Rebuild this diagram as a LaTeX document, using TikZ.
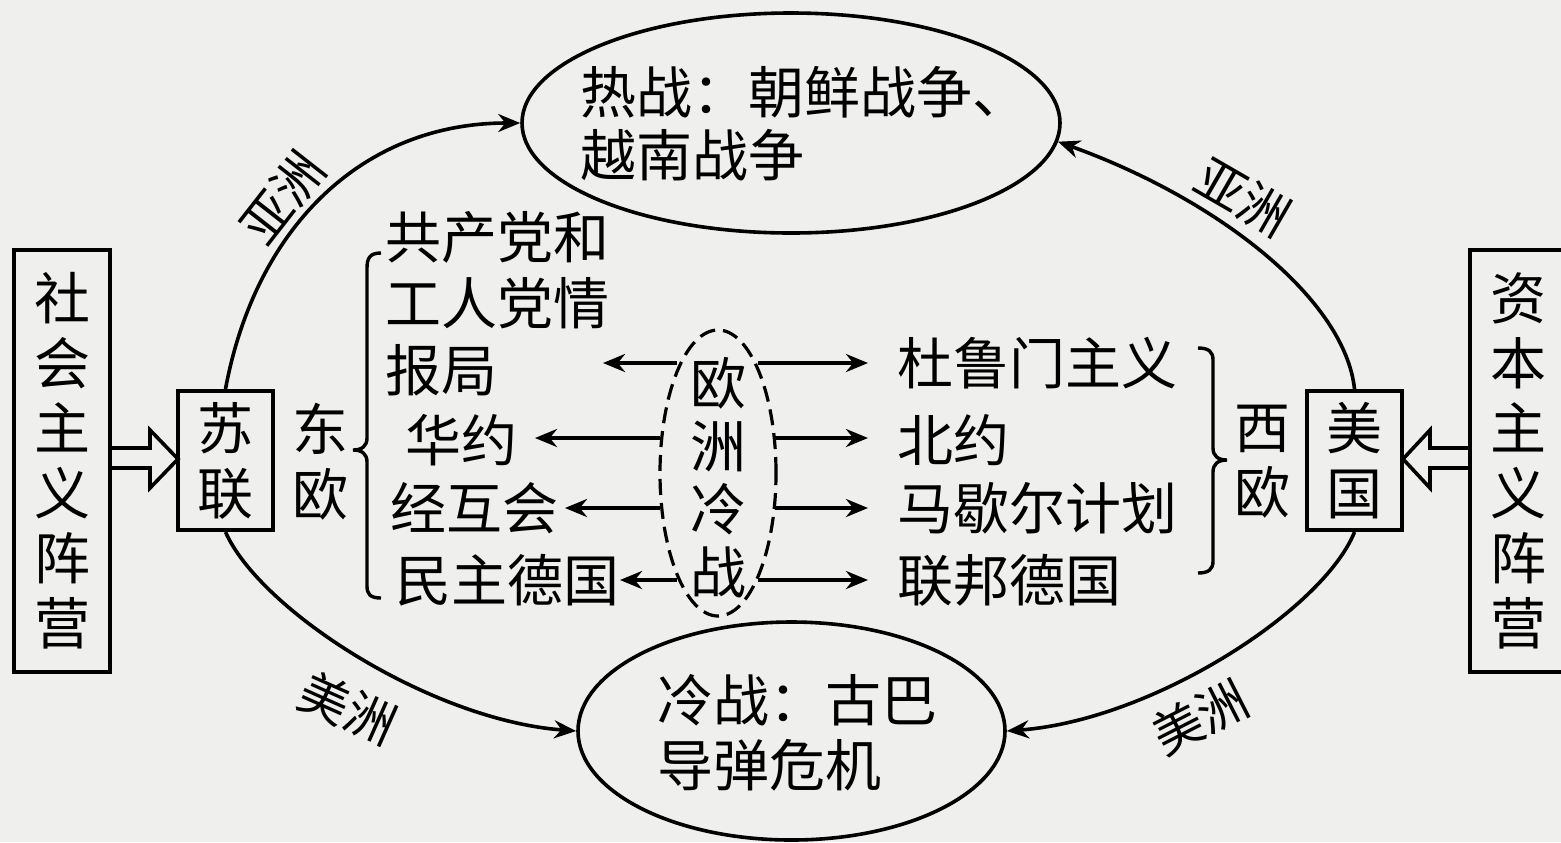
\documentclass[tikz,border=0pt]{standalone}
\usepackage{fontspec}
\newfontfamily\cjk{Noto Sans CJK SC}
\usetikzlibrary{arrows.meta,shapes.geometric}
\definecolor{bgc}{HTML}{EFEFEE}
\begin{document}
\begin{tikzpicture}[x=0.5pt,y=-0.5pt,
  txt/.style={font=\cjk\fontsize{28}{32.5}\selectfont, inner sep=0pt, align=center},
  ltxt/.style={font=\cjk\fontsize{28}{32.5}\selectfont, inner sep=0pt, anchor=west},
  lbl/.style={font=\cjk\fontsize{25}{30}\selectfont, inner sep=0pt},
  boxn/.style={draw, line width=2pt},
  ell/.style={draw, ellipse, line width=1.8pt, inner sep=0pt},
  con/.style={line width=1.8pt, -{Stealth[length=11pt,width=9pt]}},
  blk/.style={draw, line width=1.8pt, fill=bgc, line join=miter},
  brc/.style={line width=1.7pt},
]
\fill[bgc] (0,0) rectangle (1561,842);
\useasboundingbox (0,0) rectangle (1561,842);

% block arrows
\draw[blk] (111,448) -- (150,448) -- (150,430) -- (178,459) -- (150,488) -- (150,468) -- (111,468);
\draw[blk] (1469,448) -- (1430,448) -- (1430,430) -- (1403,459) -- (1430,488) -- (1430,468) -- (1469,468);

% boxes
\node[boxn, txt, minimum width=48pt, minimum height=211pt] (soc) at (62,461) {社\\会\\主\\义\\阵\\营};
\node[boxn, txt, minimum width=48pt, minimum height=211pt] (cap) at (1518,461) {资\\本\\主\\义\\阵\\营};
\node[boxn, txt, minimum width=47.5pt, minimum height=69.5pt] (su) at (225.5,460.5) {苏\\联};
\node[boxn, txt, minimum width=47.5pt, minimum height=69.5pt] (us) at (1354.5,460.5) {美\\国};

\node[txt] (dong) at (320,462) {东\\欧};
\node[txt] (xi) at (1262,462) {西\\欧};

% ellipses
\node[ell, minimum width=269pt, minimum height=110pt] (hot) at (791,123) {};
\node[ell, minimum width=213.5pt, minimum height=109pt] (cold) at (791.5,731) {};
\node[ell, dash pattern=on 8pt off 4pt, line width=1.6pt, minimum width=58pt, minimum height=143pt] (eu) at (718,473) {};
\node[txt, font=\cjk\fontsize{28}{31.5}\selectfont] (eut) at (718,478) {欧\\洲\\冷\\战};

\node[ltxt] (h1) at (580,92) {热战：朝鲜战争、};
\node[ltxt] (h2) at (580,155) {越南战争};
\node[ltxt] (c1) at (657,700) {冷战：古巴};
\node[ltxt] (c2) at (657,765) {导弹危机};

% left texts
\node[ltxt] (l1) at (385,237) {共产党和};
\node[ltxt] (l2) at (385,303) {工人党情};
\node[ltxt] (l3) at (385,370) {报局};
\node[ltxt] (l4) at (405,440) {华约};
\node[ltxt] (l5) at (390,508) {经互会};
\node[ltxt] (l6) at (395,580) {民主德国};
% right texts
\node[ltxt] (r1) at (897,363) {杜鲁门主义};
\node[ltxt] (r2) at (897,440) {北约};
\node[ltxt] (r3) at (897,508) {马歇尔计划};
\node[ltxt] (r4) at (897,580) {联邦德国};

% labels on curves
\node[lbl, rotate=52] (ya1) at (283,198) {亚洲};
\node[lbl, rotate=-30] (ya2) at (1243,197) {亚洲};
\node[lbl, rotate=-24] (mei1) at (348,708) {美洲};
\node[lbl, rotate=27] (mei2) at (1200,717) {美洲};

% braces
\draw[brc] (381,253) .. controls (370,253) and (367,258) .. (367,268) -- (367,438) .. controls (367,446) and (362,450) .. (353,450) .. controls (362,450) and (367,454) .. (367,462) -- (367,586) .. controls (367,594) and (370,598) .. (381,598);
\draw[brc] (1198,348) .. controls (1209,348) and (1213,352) .. (1213,360) -- (1213,448) .. controls (1213,456) and (1218,460) .. (1227,460) .. controls (1218,460) and (1213,464) .. (1213,472) -- (1213,561) .. controls (1213,569) and (1209,573) .. (1198,573);

% curved connectors
\draw[con] (su.north) .. controls (255,230) and (360,123) .. (hot.west);
\draw[con] (us.north) .. controls (1345,300) and (1220,200) .. (hot.-4);
\draw[con] (su.south) .. controls (260,610) and (430,720) .. (cold.west);
\draw[con] (us.south) .. controls (1323,610) and (1153,720) .. (cold.east);

% horizontal arrows from the dashed ellipse
\coordinate (la1) at (677,363); \coordinate (lb1) at (603,363);
\coordinate (la2) at (660,438); \coordinate (lb2) at (535,438);
\coordinate (la3) at (660,508); \coordinate (lb3) at (565,508);
\coordinate (la4) at (677,580); \coordinate (lb4) at (620,580);
\coordinate (ra1) at (758,363); \coordinate (rb1) at (868,363);
\coordinate (ra2) at (775,438); \coordinate (rb2) at (868,438);
\coordinate (ra3) at (775,508); \coordinate (rb3) at (868,508);
\coordinate (ra4) at (758,580); \coordinate (rb4) at (868,580);
\foreach \i in {1,2,3,4} {
  \draw[con] (la\i) -- (lb\i);
  \draw[con] (ra\i) -- (rb\i);
}
\end{tikzpicture}
\end{document}
